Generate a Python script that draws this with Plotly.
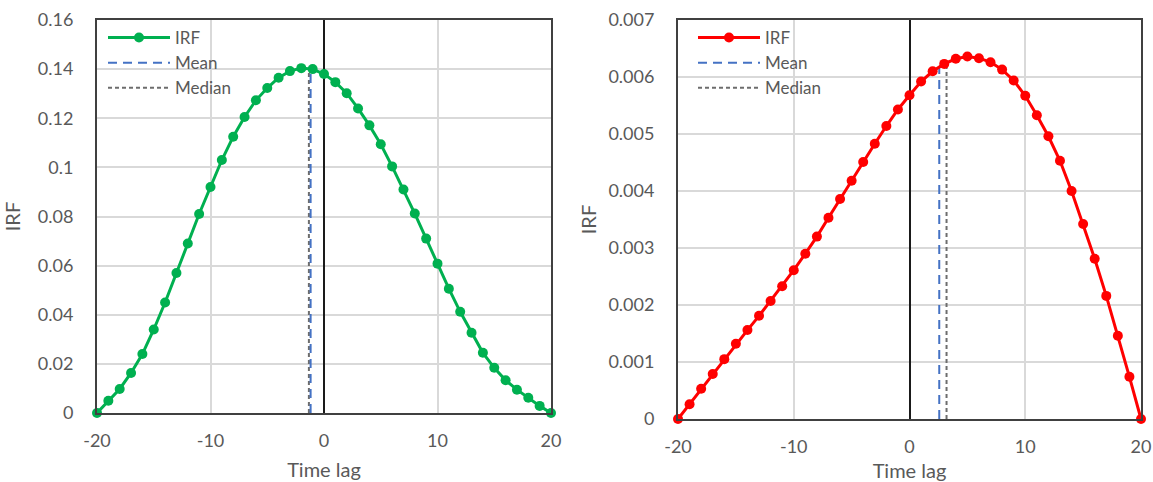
import plotly.graph_objects as go

lags = list(range(-20, 21))

irf_left = [0.0, 0.005, 0.0098, 0.0163, 0.024, 0.034, 0.045, 0.057, 0.069, 0.081,
            0.092, 0.103, 0.1125, 0.1205, 0.1273, 0.1323, 0.1365, 0.1392, 0.1404, 0.140,
            0.138, 0.1347, 0.1302, 0.124, 0.1171, 0.1094, 0.1004, 0.091, 0.0812, 0.071,
            0.0608, 0.0506, 0.0412, 0.0327, 0.0245, 0.0184, 0.0133, 0.0095, 0.0062, 0.0029, 0.0]

irf_right = [0.0, 0.00026, 0.00053, 0.00079, 0.00105, 0.00132, 0.00156, 0.00181, 0.00207, 0.00233,
             0.00261, 0.0029, 0.0032, 0.00353, 0.00386, 0.00418, 0.00451, 0.00483, 0.00514, 0.00543,
             0.00568, 0.00592, 0.0061, 0.00623, 0.00632, 0.00636, 0.00633, 0.00626, 0.00613, 0.00594,
             0.00567, 0.00533, 0.00496, 0.00453, 0.004, 0.00342, 0.00281, 0.00216, 0.00146, 0.00074, 0.0]

mean_left, median_left = -1.18, -1.33
mean_left_top, median_left_top = 0.1401, 0.1402
mean_right, median_right = 2.57, 3.2
mean_right_top, median_right_top = 0.00617, 0.00625

left_yticks = [0, 0.02, 0.04, 0.06, 0.08, 0.1, 0.12, 0.14, 0.16]
left_yticklabels = ["0", "0.02", "0.04", "0.06", "0.08", "0.1", "0.12", "0.14", "0.16"]
right_yticks = [0, 0.001, 0.002, 0.003, 0.004, 0.005, 0.006, 0.007]
right_yticklabels = ["0", "0.001", "0.002", "0.003", "0.004", "0.005", "0.006", "0.007"]
x_ticks = [-20, -10, 0, 10, 20]
x_ticklabels = ["-20", "-10", "0", "10", "20"]

FONT = "Lato"
TXT = "#595959"
W, H = 1153, 482

fig = go.Figure()

def add_panel(xa, ya, irf, color, mean, mtop, med, medtop, legend, grp):
    fig.add_trace(go.Scatter(x=[med, med], y=[0, medtop], mode="lines",
                             line=dict(color="#6d6d6d", width=2, dash="4px,3px"),
                             name="Median", xaxis=xa, yaxis=ya, legend=legend,
                             legendgroup=grp + "c", legendrank=3, hoverinfo="skip"))
    fig.add_trace(go.Scatter(x=[mean, mean], y=[0, mtop], mode="lines",
                             line=dict(color="#4472C4", width=2, dash="9px,6px"),
                             name="Mean", xaxis=xa, yaxis=ya, legend=legend,
                             legendgroup=grp + "b", legendrank=2, hoverinfo="skip"))
    fig.add_trace(go.Scatter(x=lags, y=irf, mode="lines+markers",
                             line=dict(color=color, width=3),
                             marker=dict(color=color, size=10),
                             name="IRF", xaxis=xa, yaxis=ya, legend=legend,
                             legendgroup=grp + "a", legendrank=1, cliponaxis=False))

add_panel("x", "y", irf_left, "#00B050", mean_left, mean_left_top, median_left, median_left_top, "legend", "L")
add_panel("x2", "y2", irf_right, "#FF0000", mean_right, mean_right_top, median_right, median_right_top, "legend2", "R")

def xaxis(domain, anchor):
    return dict(domain=domain, anchor=anchor, range=[-20, 20], tickvals=x_ticks, ticktext=x_ticklabels,
                automargin=False,
                showgrid=True, gridcolor="#d9d9d9", gridwidth=1.5,
                zeroline=True, zerolinecolor="#1a1a1a", zerolinewidth=1.5,
                showline=True, linecolor="#404040", linewidth=2, mirror=True,
                ticks="outside", ticklen=10, tickcolor="rgba(0,0,0,0)",
                tickfont=dict(family=FONT, size=18, color=TXT),
                title=dict(text="Time lag", font=dict(family=FONT, size=20, color=TXT), standoff=13))

def yaxis(domain, anchor, ticks, labels, rng, standoff):
    return dict(domain=domain, anchor=anchor, range=rng, tickvals=ticks, ticktext=labels,
                automargin=False,
                showgrid=True, gridcolor="#d9d9d9", gridwidth=1.5,
                zeroline=False,
                showline=True, linecolor="#404040", linewidth=2, mirror=True,
                ticks="outside", ticklen=18, tickcolor="rgba(0,0,0,0)",
                tickfont=dict(family=FONT, size=18, color=TXT),
                title=dict(text="IRF", font=dict(family=FONT, size=20, color=TXT), standoff=standoff))

fig.update_layout(
    width=W, height=H,
    margin=dict(l=0, r=0, t=0, b=0),
    paper_bgcolor="white", plot_bgcolor="white",
    font=dict(family=FONT, color=TXT),
    xaxis=xaxis([97 / W, 551 / W], "y"),
    yaxis=yaxis([1 - 413 / H, 1 - 20 / H], "x", left_yticks, left_yticklabels, [0, 0.16], 12),
    xaxis2=xaxis([678 / W, 1141 / W], "y2"),
    yaxis2=yaxis([1 - 419 / H, 1 - 20 / H], "x2", right_yticks, right_yticklabels, [0, 0.007], 6),
    legend=dict(x=103 / W, y=1 - 20 / H, xanchor="left", yanchor="top",
                bgcolor="rgba(255,255,255,0)", font=dict(family=FONT, size=17, color=TXT),
                tracegroupgap=0, itemwidth=62),
    legend2=dict(x=693 / W, y=1 - 20 / H, xanchor="left", yanchor="top",
                 bgcolor="rgba(255,255,255,0)", font=dict(family=FONT, size=17, color=TXT),
                 tracegroupgap=0, itemwidth=62),
    showlegend=True,
)

fig.write_html("out.html", config={"displayModeBar": False},
               post_script="document.body.style.margin='0';document.body.style.overflow='hidden';")
